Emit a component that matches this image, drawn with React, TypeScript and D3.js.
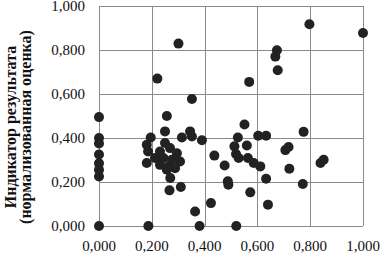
import * as d3 from "d3"

const xTicks = [0, 0.2, 0.4, 0.6, 0.8, 1.0]
const yTicks = [0, 0.2, 0.4, 0.6, 0.8, 1.0]
const titleLines = ["Индикатор результата", "(нормализованная оценка)"]

// значения по оси X
const xs = [
  0, 0, 0, 0, 0, 0, 0, 0,
  0.187, 0.381, 0.52,
  0.301, 0.221, 0.352, 0.257,
  0.797, 1.0, 0.674, 0.668, 0.677, 0.569,
  0.551, 0.526, 0.603, 0.633, 0.775, 0.56, 0.513, 0.519, 0.529, 0.564,
  0.586, 0.611, 0.706, 0.718, 0.721, 0.839, 0.851, 0.633, 0.772, 0.573, 0.64,
  0.437, 0.476, 0.488, 0.49,
  0.196, 0.25, 0.181, 0.186, 0.181, 0.25, 0.314, 0.345, 0.352, 0.39,
  0.231, 0.269, 0.295, 0.212, 0.244, 0.276, 0.307, 0.231, 0.263, 0.288, 0.257,
  0.27, 0.31, 0.267, 0.424, 0.364,
]

// значения по оси Y
const ys = [
  0.495, 0.4, 0.375, 0.325, 0.285, 0.255, 0.225, 0,
  0, 0, 0,
  0.829, 0.67, 0.577, 0.5,
  0.917, 0.877, 0.799, 0.77, 0.708, 0.655,
  0.461, 0.402, 0.41, 0.41, 0.428, 0.366, 0.362, 0.327, 0.309, 0.309,
  0.286, 0.271, 0.345, 0.359, 0.26, 0.286, 0.301, 0.215, 0.191, 0.153, 0.097,
  0.32, 0.275, 0.203, 0.188,
  0.402, 0.43, 0.369, 0.339, 0.286, 0.377, 0.402, 0.43, 0.407, 0.39,
  0.339, 0.354, 0.331, 0.309, 0.309, 0.301, 0.293, 0.278, 0.271, 0.263, 0.256,
  0.218, 0.177, 0.162, 0.104, 0.066,
]

const fmt = (v: number) => v.toFixed(3).replace(".", ",")

export default function App() {
  const width = 382
  const height = 255

  const x = d3.scaleLinear().domain([0, 1]).range([99, 363])
  const y = d3.scaleLinear().domain([0, 1]).range([226, 6])

  const px = (v: number) => Math.round(v) + 0.5

  return (
    <svg
      width={width}
      height={height}
      style={{ position: "absolute", left: 0, top: 0, background: "#fff" }}
      fontFamily="'Liberation Serif', 'Times New Roman', serif"
    >
      <g stroke="#8a8a8a" strokeWidth={1} shapeRendering="crispEdges">
        {xTicks.map((t) => (
          <line key={"vx" + t} x1={px(x(t))} x2={px(x(t))} y1={y(1)} y2={y(0)} />
        ))}
        {yTicks.map((t) => (
          <line key={"hy" + t} x1={x(0)} x2={x(1)} y1={px(y(t))} y2={px(y(t))} />
        ))}
      </g>

      <g fill="#222">
        {xs.map((v, i) => (
          <circle key={i} cx={x(v)} cy={y(ys[i])} r={5} />
        ))}
      </g>

      <g fontSize={15} fill="#111">
        {yTicks.map((t) => (
          <text key={"yl" + t} x={85} y={y(t) + 5} textAnchor="end">
            {fmt(t)}
          </text>
        ))}
        {xTicks.map((t) => (
          <text key={"xl" + t} x={x(t)} y={251} textAnchor="middle">
            {fmt(t)}
          </text>
        ))}
      </g>

      <g fontSize={16} fontWeight="bold" fill="#111" textAnchor="middle">
        {titleLines.map((s, i) => (
          <text key={s} transform={`translate(${16 + i * 15},127) rotate(-90)`}>
            {s}
          </text>
        ))}
      </g>
    </svg>
  )
}
